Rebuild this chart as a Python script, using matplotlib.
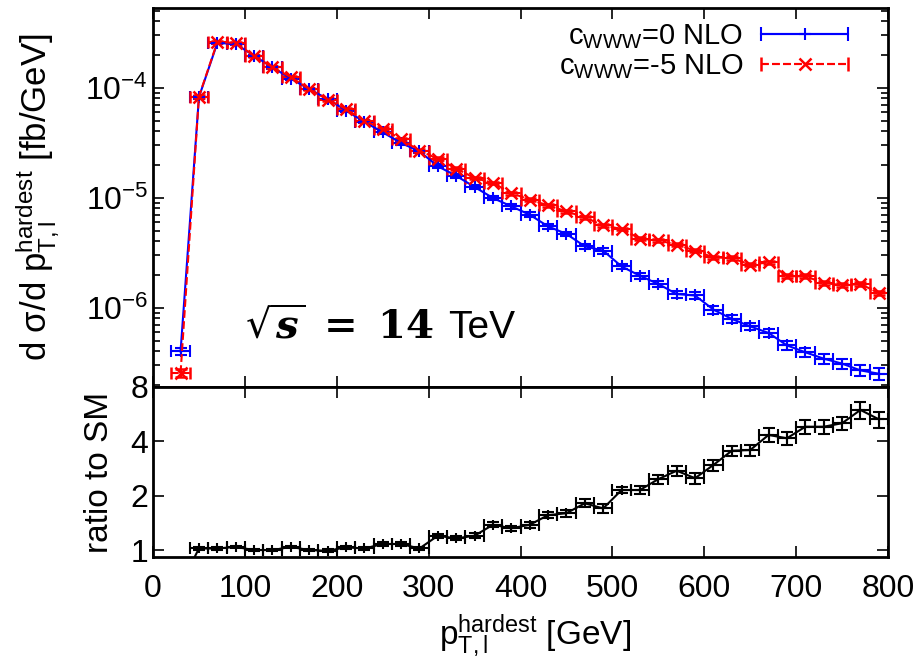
import numpy as np
import matplotlib
matplotlib.use("Agg")
import matplotlib.pyplot as plt
from matplotlib.ticker import FixedLocator, FixedFormatter, NullFormatter, NullLocator, LogLocator
from matplotlib.legend_handler import HandlerErrorbar

# bin centres of the pT distribution (20 GeV bins)
pt = [30, 50, 70, 90, 110, 130, 150, 170, 190, 210, 230, 250, 270, 290,
      310, 330, 350, 370, 390, 410, 430, 450, 470, 490, 510, 530, 550,
      570, 590, 610, 630, 650, 670, 690, 710, 730, 750, 770, 790]
half_bin = 10

# c_WWW = 0 NLO  [fb/GeV]
sm = [4.0e-7, 8.2e-5, 2.55e-4, 2.5e-4, 1.95e-4, 1.53e-4, 1.21e-4, 9.7e-5,
      7.9e-5, 6.2e-5, 4.9e-5, 3.93e-5, 3.14e-5, 2.64e-5, 1.93e-5, 1.58e-5,
      1.25e-5, 9.93e-6, 8.34e-6, 7.0e-6, 5.48e-6, 4.68e-6, 3.61e-6, 3.30e-6,
      2.37e-6, 1.95e-6, 1.64e-6, 1.33e-6, 1.29e-6, 9.6e-7, 7.9e-7, 6.76e-7,
      5.89e-7, 4.54e-7, 3.93e-7, 3.44e-7, 3.10e-7, 2.69e-7, 2.51e-7]

# c_WWW = -5 NLO  [fb/GeV]
bsm = [2.55e-7, 8.3e-5, 2.6e-4, 2.55e-4, 1.95e-4, 1.53e-4, 1.25e-4, 9.7e-5,
       7.8e-5, 6.4e-5, 5.0e-5, 4.25e-5, 3.4e-5, 2.67e-5, 2.26e-5, 1.84e-5,
       1.51e-5, 1.36e-5, 1.10e-5, 9.6e-6, 8.51e-6, 7.5e-6, 6.62e-6, 5.60e-6,
       5.19e-6, 4.24e-6, 4.09e-6, 3.74e-6, 3.30e-6, 2.86e-6, 2.83e-6, 2.46e-6,
       2.58e-6, 1.93e-6, 1.93e-6, 1.68e-6, 1.60e-6, 1.64e-6, 1.36e-6]

# ratio c_WWW=-5 / SM
ratio = [0.64, 1.02, 1.02, 1.04, 1.0, 1.0, 1.04, 1.0, 0.99, 1.035, 1.02,
         1.08, 1.08, 1.02, 1.2, 1.16, 1.2, 1.38, 1.32, 1.38, 1.56, 1.60,
         1.815, 1.70, 2.15, 2.15, 2.47, 2.75, 2.50, 2.96, 3.55, 3.58, 4.34,
         4.16, 4.82, 4.82, 5.04, 5.97, 5.30]

# relative statistical errors
sm_relerr = [0.08, 0.03, 0.02, 0.02, 0.02, 0.025, 0.025, 0.025, 0.03, 0.03,
             0.03, 0.03, 0.035, 0.035, 0.04, 0.04, 0.04, 0.045, 0.045, 0.05,
             0.05, 0.05, 0.06, 0.06, 0.06, 0.06, 0.07, 0.07, 0.07, 0.08,
             0.08, 0.08, 0.09, 0.09, 0.1, 0.1, 0.11, 0.12, 0.12]
bsm_relerr = [0.08, 0.03, 0.02, 0.02, 0.02, 0.02, 0.02, 0.025, 0.025, 0.025,
              0.025, 0.025, 0.03, 0.03, 0.03, 0.03, 0.03, 0.03, 0.03, 0.03,
              0.03, 0.03, 0.03, 0.03, 0.03, 0.03, 0.03, 0.03, 0.035, 0.035,
              0.035, 0.035, 0.04, 0.04, 0.04, 0.04, 0.04, 0.04, 0.04]
ratio_relerr = [0.05, 0.015, 0.015, 0.015, 0.015, 0.015, 0.015, 0.015, 0.02,
                0.02, 0.02, 0.02, 0.02, 0.025, 0.025, 0.025, 0.03, 0.03, 0.03,
                0.035, 0.04, 0.045, 0.05, 0.06, 0.04, 0.05, 0.06, 0.06, 0.07,
                0.07, 0.06, 0.07, 0.09, 0.08, 0.09, 0.09, 0.08, 0.11, 0.1]

plt.rcParams["font.family"] = ["Liberation Sans", "DejaVu Sans"]
plt.rcParams["mathtext.fontset"] = "custom"
plt.rcParams["mathtext.rm"] = "Liberation Sans"
plt.rcParams["mathtext.it"] = "Liberation Sans:italic"
plt.rcParams["mathtext.bf"] = "Liberation Sans:bold"
plt.rcParams["mathtext.default"] = "regular"
plt.rcParams["font.size"] = 23

pt = np.array(pt)
sm = np.array(sm)
bsm = np.array(bsm)
ratio = np.array(ratio)

fig = plt.figure(figsize=(9.24, 6.61), dpi=100)
ax1 = fig.add_axes([153 / 924, 1 - 387 / 661, 735 / 924, 379 / 661])
ax2 = fig.add_axes([153 / 924, 1 - 557 / 661, 735 / 924, 170 / 661])

blue = "#0000ff"
red = "#ff0000"

ax1.errorbar(pt, sm, xerr=half_bin, yerr=sm * np.array(sm_relerr),
             color=blue, lw=1.5, elinewidth=1.5, capsize=4, capthick=1.5,
             marker="+", ms=9, mew=1.5)
eb = ax1.errorbar(pt, bsm, xerr=half_bin, yerr=bsm * np.array(bsm_relerr),
                  color=red, lw=1.5, ls="--", elinewidth=1.5, capsize=4,
                  capthick=1.5, marker="x", ms=8, mew=1.8)
for c in eb[2]:
    c.set_linestyle("--")

# legend samples: horizontal bar only, like gnuplot's key
p_sm = ax1.errorbar([np.nan], [np.nan], xerr=1, color=blue, lw=1.5,
                    elinewidth=1.5, capsize=5, capthick=1.5, marker="+",
                    ms=9, mew=1.5)
p_bsm = ax1.errorbar([np.nan], [np.nan], xerr=1, color=red, lw=1.5, ls="--",
                     elinewidth=1.5, capsize=5, capthick=1.5, marker="x",
                     ms=8, mew=1.8)
for c in p_bsm[2]:
    c.set_linestyle("--")

ax1.set_yscale("log")
ax1.set_ylim(1.9e-7, 5.3e-4)
ax1.set_xlim(0, 800)
ax1.yaxis.set_major_locator(FixedLocator([1e-6, 1e-5, 1e-4]))
ax1.yaxis.set_minor_locator(LogLocator(base=10, subs=np.arange(2, 10)))
ax1.yaxis.set_minor_formatter(NullFormatter())
ax1.xaxis.set_major_locator(FixedLocator(np.arange(0, 801, 100)))
ax1.tick_params(which="both", direction="in", top=True, right=True,
                labelbottom=False, width=1.2)
ax1.tick_params(which="major", length=8)
ax1.tick_params(which="minor", length=5)
ax1.set_ylabel(r"d σ/d p$_{\mathrm{T,l}}^{\mathrm{hardest}}$ [fb/GeV]",
               fontsize=25)
ax1.yaxis.set_label_coords(-0.125, 0.5)

ax1.text(0.125, 0.129, r"$\sqrt{\mathbfit{s}}\ \mathbf{=\ 14}$",
         transform=ax1.transAxes, fontsize=29, math_fontfamily="dejavuserif",
         va="baseline")
ax1.text(0.401, 0.129, "TeV", transform=ax1.transAxes, fontsize=28,
         va="baseline")

ax1.legend([p_sm, p_bsm],
           [r"c$_{\mathrm{WWW}}$=0 NLO", r"c$_{\mathrm{WWW}}$=-5 NLO"],
           handler_map={type(p_sm): HandlerErrorbar(xerr_size=1.5)},
           loc="upper right", bbox_to_anchor=(0.974, 1.016), fontsize=21,
           frameon=False, markerfirst=False, handlelength=3.0,
           labelspacing=0.05, borderaxespad=0.3, handletextpad=0.6)

ax2.errorbar(pt, ratio, xerr=half_bin, yerr=ratio * np.array(ratio_relerr),
             color="black", lw=1.5, elinewidth=1.5, capsize=4, capthick=1.5,
             marker="+", ms=7, mew=1.5)
ax2.set_yscale("log", base=2)
ax2.set_ylim(0.915, 8)
ax2.set_xlim(0, 800)
ax2.yaxis.set_major_locator(FixedLocator([1, 2, 4, 8]))
ax2.yaxis.set_major_formatter(FixedFormatter(["1", "2", "4", "8"]))
ax2.yaxis.set_minor_locator(NullLocator())
ax2.xaxis.set_major_locator(FixedLocator(np.arange(0, 801, 100)))
ax2.tick_params(which="both", direction="in", top=True, right=True,
                length=8, width=1.2)
ax2.tick_params(axis="x", pad=12)
ax2.set_ylabel("ratio to SM", fontsize=24)
ax2.yaxis.set_label_coords(-0.052, 0.5)
ax2.set_xlabel(r"p$_{\mathrm{T,l}}^{\mathrm{hardest}}$ [GeV]", fontsize=24)
ax2.xaxis.set_label_coords(0.52, -0.325)

for ax in (ax1, ax2):
    for s in ax.spines.values():
        s.set_linewidth(2)

fig.savefig("out.png", dpi=100)
